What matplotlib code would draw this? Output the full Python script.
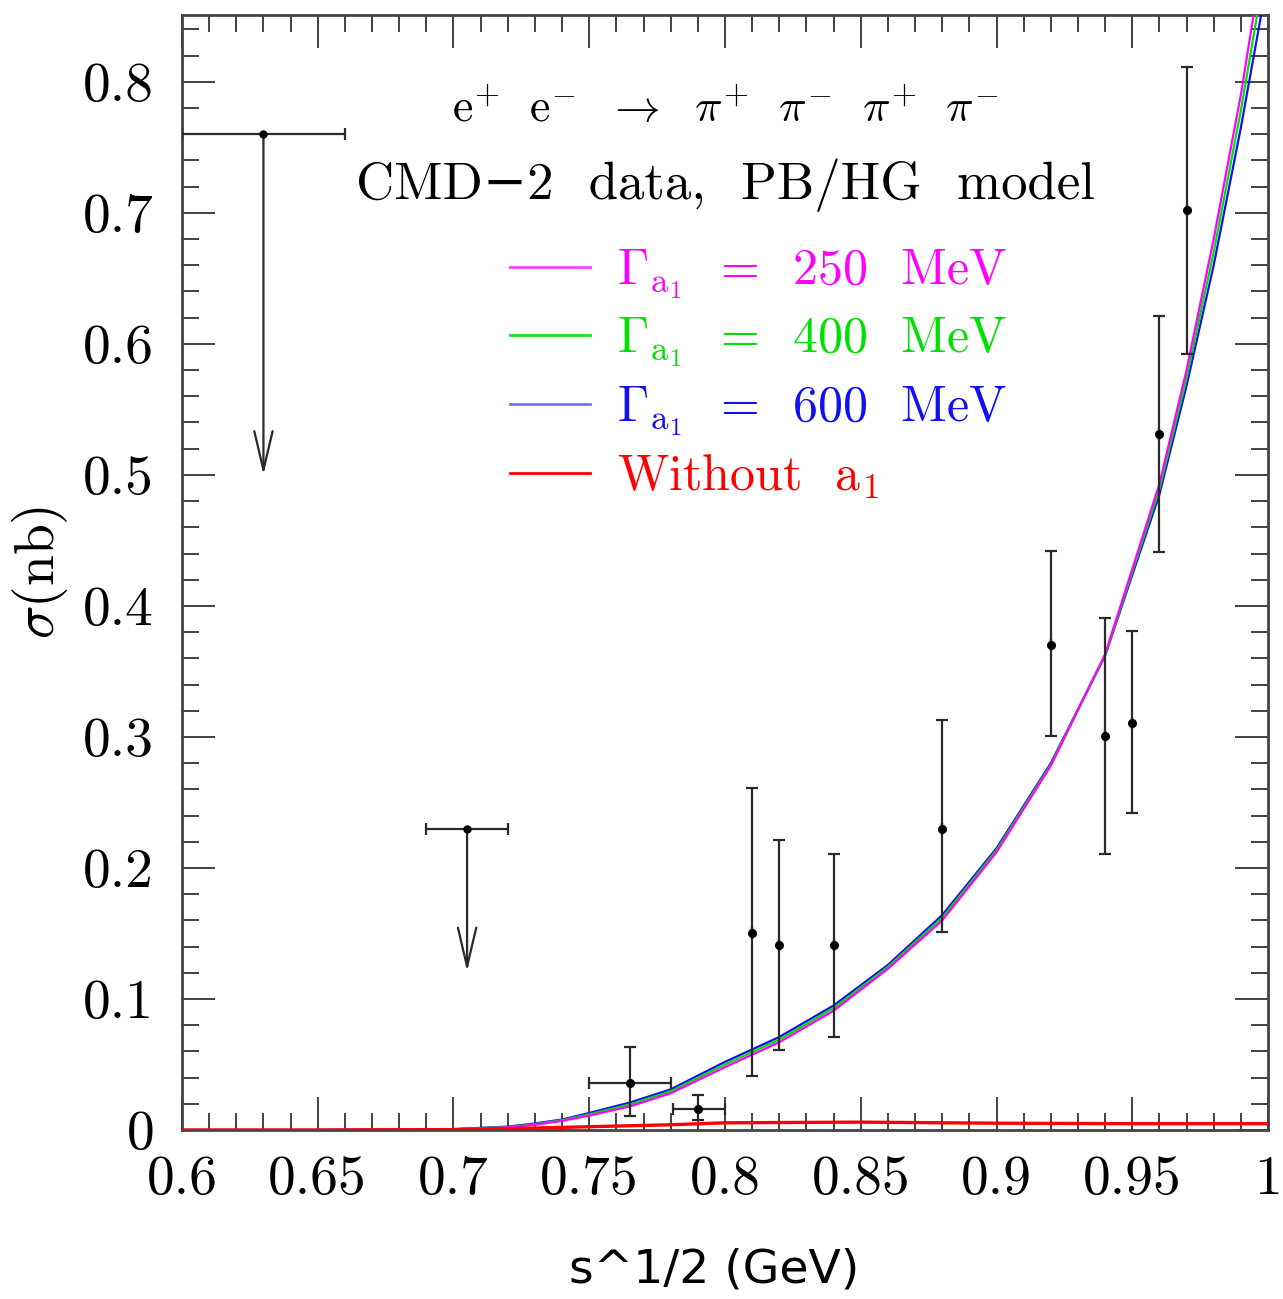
import numpy as np
import matplotlib
matplotlib.use('Agg')
import matplotlib.pyplot as plt
from matplotlib.lines import Line2D
from matplotlib.ticker import MultipleLocator

plt.rcParams['font.family'] = ['cmr10', 'DejaVu Serif']
plt.rcParams['mathtext.fontset'] = 'cm'
plt.rcParams['axes.formatter.use_mathtext'] = True

# ---- data ----
pt_x = [0.765, 0.79, 0.81, 0.82, 0.84, 0.88, 0.92, 0.94, 0.95, 0.96, 0.97]
pt_y = [0.036, 0.016, 0.150, 0.141, 0.141, 0.230, 0.370, 0.301, 0.311, 0.531, 0.702]
pt_ylo = [0.011, 0.008, 0.041, 0.061, 0.071, 0.151, 0.301, 0.211, 0.242, 0.441, 0.592]
pt_yhi = [0.063, 0.027, 0.261, 0.221, 0.211, 0.313, 0.442, 0.391, 0.381, 0.621, 0.811]
pt_xlo = [0.750, 0.781, 0.81, 0.82, 0.84, 0.88, 0.92, 0.94, 0.95, 0.96, 0.97]
pt_xhi = [0.780, 0.800, 0.81, 0.82, 0.84, 0.88, 0.92, 0.94, 0.95, 0.96, 0.97]

ul_x = [0.630, 0.705]
ul_y = [0.760, 0.230]
ul_xlo = [0.600, 0.690]
ul_xhi = [0.660, 0.720]
ul_to = [0.500, 0.121]

cx = [0.60, 0.65, 0.70, 0.72, 0.73, 0.74, 0.75, 0.765, 0.78, 0.80, 0.82, 0.84,
      0.86, 0.88, 0.90, 0.92, 0.94, 0.96, 0.97, 0.98, 0.99, 1.00]
c250 = [0.0, 0.0, 0.0005, 0.002, 0.004, 0.007, 0.011, 0.018, 0.028, 0.048, 0.067,
        0.091, 0.123, 0.160, 0.212, 0.278, 0.363, 0.493, 0.580, 0.680, 0.790, 0.920]
c400 = [0.0, 0.0, 0.0006, 0.0023, 0.0045, 0.0075, 0.012, 0.0195, 0.0295, 0.050, 0.069,
        0.093, 0.1245, 0.162, 0.2135, 0.279, 0.3625, 0.489, 0.574, 0.670, 0.778, 0.900]
c600 = [0.0, 0.0, 0.0007, 0.0026, 0.005, 0.008, 0.013, 0.021, 0.031, 0.052, 0.071,
        0.095, 0.126, 0.164, 0.215, 0.280, 0.362, 0.485, 0.568, 0.660, 0.765, 0.880]

rx = [0.60, 0.65, 0.70, 0.72, 0.74, 0.76, 0.78, 0.80, 0.85, 0.90, 0.95, 1.00]
ry = [0.0, 0.0, 0.0003, 0.001, 0.002, 0.003, 0.004, 0.0055, 0.006, 0.0052, 0.0048, 0.0048]

xtick_vals = [0.6, 0.65, 0.7, 0.75, 0.8, 0.85, 0.9, 0.95, 1.0]
xtick_labels = ['0.6', '0.65', '0.7', '0.75', '0.8', '0.85', '0.9', '0.95', '1']
ytick_vals = [0, 0.1, 0.2, 0.3, 0.4, 0.5, 0.6, 0.7, 0.8]
ytick_labels = ['0', '0.1', '0.2', '0.3', '0.4', '0.5', '0.6', '0.7', '0.8']

curve_labels = [r'$\Gamma_{\mathrm{a}_1}$  =  250  MeV', r'$\Gamma_{\mathrm{a}_1}$  =  400  MeV',
                r'$\Gamma_{\mathrm{a}_1}$  =  600  MeV', r'Without  a$_1$']
curve_colors = ['#ff00ff', '#00e000', '#1010f0', '#ff0000']
legend_line_colors = ['#ff40ff', '#20dd20', '#6a7ae8', '#ff0000']

# ---- figure ----
fig = plt.figure(figsize=(12.83, 12.99), dpi=100)
ax = fig.add_axes([182 / 1283, 1 - 1130 / 1299, (1268 - 182) / 1283, (1130 - 15) / 1299])

ax.plot(cx, c600, color=curve_colors[2], lw=1.6, zorder=3)
ax.plot(cx, c400, color=curve_colors[1], lw=1.6, zorder=3)
ax.plot(cx, c250, color=curve_colors[0], lw=1.6, zorder=3)
ax.plot(rx, ry, color=curve_colors[3], lw=2.4, zorder=3)

px = np.array(pt_x); py = np.array(pt_y)
yerr = [py - np.array(pt_ylo), np.array(pt_yhi) - py]
xerr = [px - np.array(pt_xlo), np.array(pt_xhi) - px]
ax.errorbar(px, py, yerr=yerr, xerr=xerr, fmt='o', color='black', ecolor='#2a2a2a',
            ms=5.5, elinewidth=1.6, capsize=4, capthick=1.6, zorder=4)

ux = np.array(ul_x); uy = np.array(ul_y)
ax.errorbar(ux, uy, xerr=[ux - np.array(ul_xlo), np.array(ul_xhi) - ux], fmt='o',
            color='black', ecolor='#2a2a2a', ms=5, elinewidth=1.6, capsize=4,
            capthick=1.6, zorder=4)
for x0, y0, y1 in zip(ul_x, ul_y, ul_to):
    ax.annotate('', xy=(x0, y1), xytext=(x0, y0),
                arrowprops=dict(arrowstyle='->,head_length=1.4,head_width=0.33',
                                lw=1.6, color='#2a2a2a', shrinkA=0, shrinkB=0,
                                mutation_scale=20), zorder=4)

ax.set_xlim(0.6, 1.0)
ax.set_ylim(0, 0.851)
ax.set_xticks(xtick_vals)
ax.set_xticklabels(xtick_labels)
ax.set_yticks(ytick_vals)
ax.set_yticklabels(ytick_labels)
ax.xaxis.set_minor_locator(MultipleLocator(0.01))
ax.yaxis.set_minor_locator(MultipleLocator(0.02))
ax.tick_params(which='both', direction='in', top=True, right=True, colors='#333333',
               labelcolor='black')
ax.tick_params(which='major', length=24, width=1.3, labelsize=40)
ax.tick_params(which='minor', length=12, width=1.3)
ax.tick_params(axis='x', which='major', pad=18)
ax.tick_params(axis='y', which='major', pad=20)
for s in ax.spines.values():
    s.set_color('#444444')
    s.set_linewidth(2)

ax.set_ylabel(r'$\sigma$(nb)', fontsize=40)
ax.yaxis.set_label_coords(-0.103, 0.50)
ax.set_xlabel('s^1/2 (GeV)', fontsize=34, family=['DejaVu Sans'])
ax.xaxis.set_label_coords(0.49, -0.105)

ax.text(0.50, 0.915, r'$\mathrm{e}^{+}\ \ \mathrm{e}^{-}\ \ \rightarrow\ \ \pi^{+}\ \ \pi^{-}\ \ \pi^{+}\ \ \pi^{-}$',
        transform=ax.transAxes, ha='center', va='center', fontsize=33)
ax.text(0.50, 0.847, 'CMD\u22122  data,  PB/HG  model', transform=ax.transAxes,
        ha='center', va='center', fontsize=38)

handles = [Line2D([], [], color=c, lw=2) for c in legend_line_colors]
leg = ax.legend(handles, curve_labels, loc='upper left', bbox_to_anchor=(0.279, 0.814),
                frameon=False, fontsize=36, handlelength=1.6, handletextpad=0.55,
                labelspacing=0.30, borderpad=0, labelcolor=curve_colors)

fig.savefig('out.png', dpi=100)
